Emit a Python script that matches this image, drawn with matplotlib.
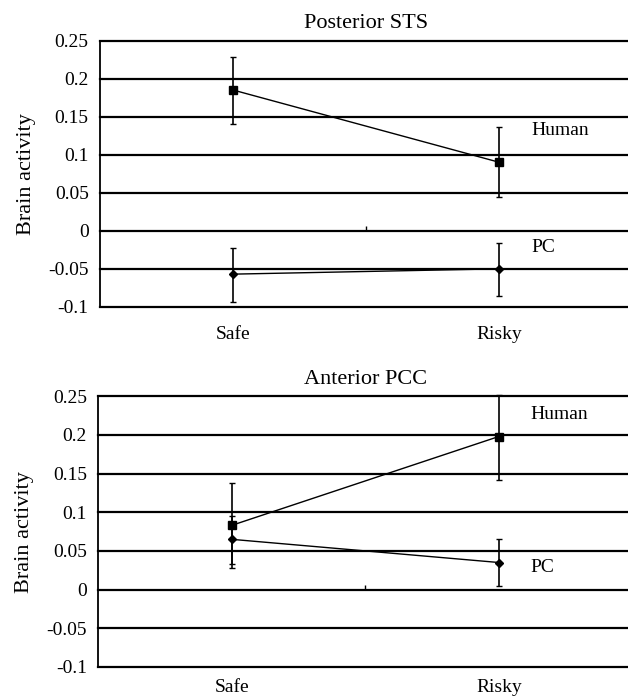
import matplotlib
matplotlib.use("Agg")
import matplotlib.pyplot as plt
import numpy as np

categories = ["Safe", "Risky"]
yticks = [0.25, 0.2, 0.15, 0.1, 0.05, 0, -0.05, -0.1]
ytick_labels = ["0.25", "0.2", "0.15", "0.1", "0.05", "0", "-0.05", "-0.1"]

# Posterior STS
sts_human = [0.185, 0.090]
sts_human_lo = [0.140, 0.045]
sts_human_hi = [0.229, 0.137]
sts_pc = [-0.057, -0.050]
sts_pc_lo = [-0.093, -0.086]
sts_pc_hi = [-0.022, -0.016]

# Anterior PCC
pcc_human = [0.083, 0.198]
pcc_human_lo = [0.028, 0.142]
pcc_human_hi = [0.138, 0.252]
pcc_pc = [0.065, 0.035]
pcc_pc_lo = [0.033, 0.004]
pcc_pc_hi = [0.095, 0.065]

plt.rcParams['font.family'] = ['Liberation Serif', 'DejaVu Serif']

fig = plt.figure(figsize=(6.28, 6.99), dpi=100)
xpos = np.array([0.5, 1.5])

def panel(rect, title, human, hlo, hhi, pc, plo, phi, human_lab_y, pc_lab_y, xpad):
    ax = fig.add_axes(rect)
    ax.set_xlim(0, 2)
    ax.set_ylim(-0.1, 0.25)
    for t in yticks:
        ax.axhline(t, color='black', lw=1.6, zorder=1, clip_on=False)
    ax.vlines(1.0, 0, 0.006, color='black', lw=1)
    h = np.array(human); p = np.array(pc)
    ax.errorbar(xpos, h, yerr=[h - np.array(hlo), np.array(hhi) - h], color='black',
                lw=1, marker='s', ms=6, capsize=2.5, elinewidth=1.2, zorder=3, clip_on=False)
    ax.errorbar(xpos, p, yerr=[p - np.array(plo), np.array(phi) - p], color='black',
                lw=1, marker='D', ms=4, capsize=2.5, elinewidth=1.2, zorder=3, clip_on=False)
    ax.text(1.62, human_lab_y, "Human", fontsize=14, va='center', ha='left')
    ax.text(1.62, pc_lab_y, "PC", fontsize=14, va='center', ha='left')
    ax.set_yticks(yticks)
    ax.set_yticklabels(ytick_labels, fontsize=14)
    ax.set_xticks(xpos)
    ax.set_xticklabels(categories, fontsize=14)
    ax.tick_params(axis='x', length=0, pad=xpad)
    ax.tick_params(axis='y', length=0, pad=8)
    for s in ['top', 'right', 'bottom']:
        ax.spines[s].set_visible(False)
    ax.spines['left'].set_linewidth(1.3)
    ax.set_ylabel("Brain activity", fontsize=16, labelpad=9)
    ax.set_title(title, fontsize=16, pad=9)
    return ax

panel([0.159, 0.561, 0.848, 0.381], "Posterior STS", sts_human, sts_human_lo, sts_human_hi,
      sts_pc, sts_pc_lo, sts_pc_hi, 0.132, -0.022, 14)
panel([0.156, 0.046, 0.851, 0.387], "Anterior PCC", pcc_human, pcc_human_lo, pcc_human_hi,
      pcc_pc, pcc_pc_lo, pcc_pc_hi, 0.226, 0.028, 9)

fig.savefig("out.png", dpi=100)
